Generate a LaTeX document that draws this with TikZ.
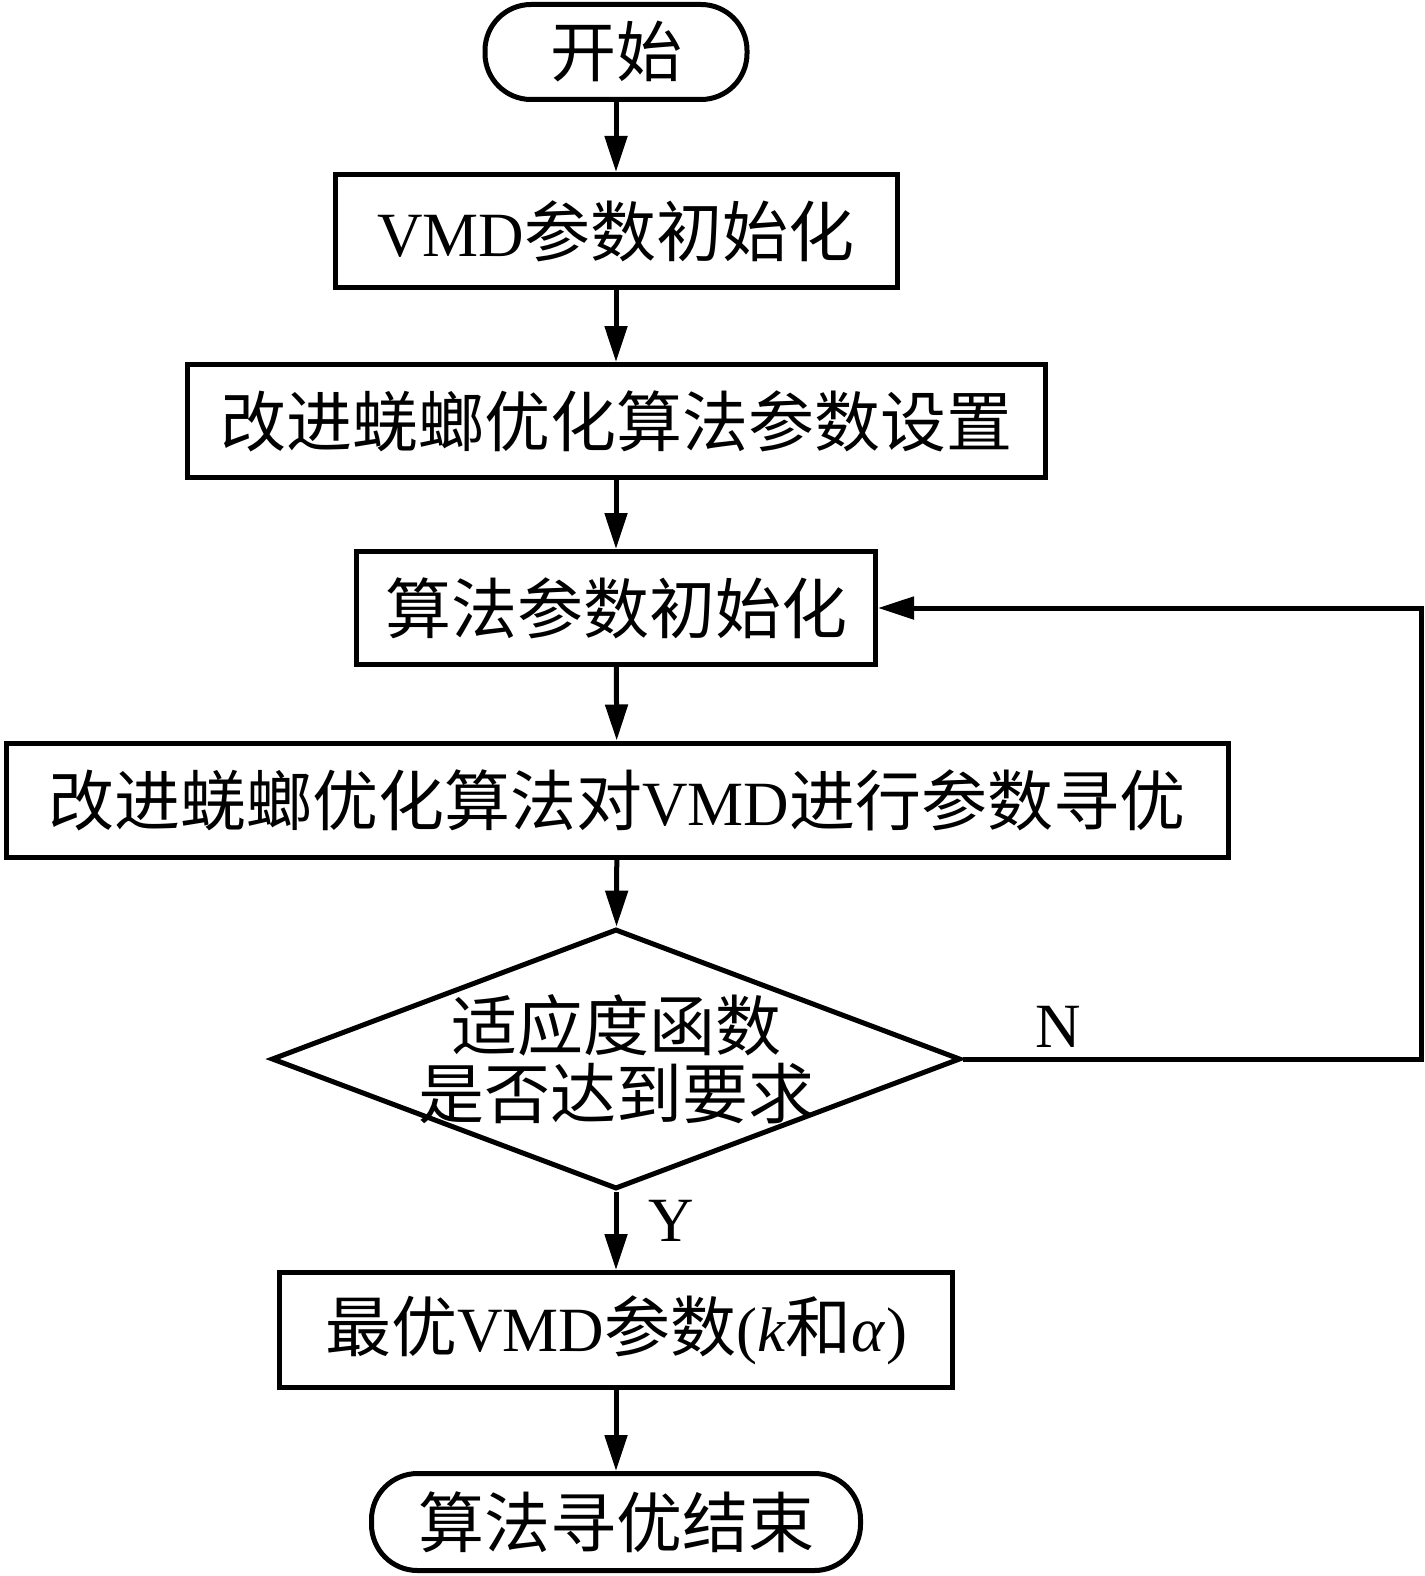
\documentclass[tikz,border=0pt]{standalone}
\usepackage{fontspec}
\setmainfont{Liberation Serif}
\newfontfamily\cjkfam{Noto Sans CJK SC}
\newcommand\cjk{\cjkfam\fontsize{66}{68}\selectfont}
\usetikzlibrary{arrows.meta,shapes.geometric}
\begin{document}
\begin{tikzpicture}[x=1pt,y=-1pt,
  every node/.style={font=\fontsize{63}{68}\selectfont},
  box/.style={draw,line width=5pt,inner sep=0pt,minimum height=113pt},
  term/.style={box,rounded corners=46pt},
  arr/.style={line width=5pt,-{Triangle[length=36pt,width=22pt]}},
  lbl/.style={inner sep=0pt}]
\useasboundingbox (0,0) rectangle (1424,1576);
\node[term,minimum width=262pt,minimum height=95pt] (s) at (616,52) {\cjk 开始};
\node[box,minimum width=562pt] (b1) at (616,231) {VMD{\cjk 参数初始化}};
\node[box,minimum width=858pt] (b2) at (616,421) {\cjk 改进蜣螂优化算法参数设置};
\node[box,minimum width=519pt] (b3) at (616,608) {\cjk 算法参数初始化};
\node[box,minimum width=1222pt,minimum height=114pt] (b4) at (617,800) {{\cjk 改进蜣螂优化算法对}VMD{\cjk 进行参数寻优}};
\node[diamond,draw,line width=5pt,inner sep=0pt,minimum width=689pt,minimum height=260pt] (d) at (616,1059) {};
\node[lbl,align=center,font=\cjk] (dt) at (d.center) {适应度函数\\是否达到要求};
\node[box,minimum width=673pt,minimum height=115pt] (b5) at (616,1330) {{\cjk 最优}VMD{\cjk 参数}(\textit{k}{\cjk 和}\textit{α})};
\node[term,minimum width=489pt,minimum height=97pt] (e) at (616,1522) {\cjk 算法寻优结束};
\node[lbl] (N) at (1058,1027) {N};
\node[lbl] (Y) at (671,1221) {Y};
\coordinate (lp) at (1421,1059);
\draw[arr] (s) -- (b1);
\draw[arr] (b1) -- (b2);
\draw[arr] (b2) -- (b3);
\draw[arr] (b3) -- (b4);
\draw[arr] (b4) -- (d);
\draw[arr] (d) -- (b5);
\draw[arr] (b5) -- (e);
\draw[arr] (d.east) -- (lp) |- (b3.east);
\end{tikzpicture}
\end{document}
